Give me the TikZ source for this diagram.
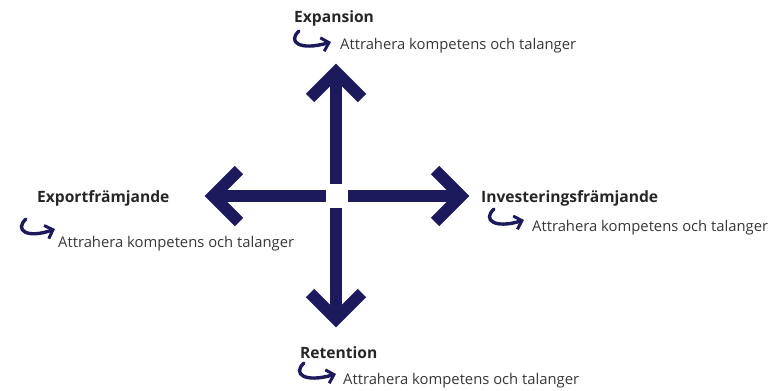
\documentclass[tikz,border=0pt]{standalone}
\usepackage{fontspec}
\setmainfont{Open Sans}
\usetikzlibrary{arrows.meta,calc}
\definecolor{navy}{RGB}{28,26,92}
\definecolor{txt}{RGB}{55,55,55}
\tikzset{
  bigarrow/.style={draw=navy, line width=12pt, line cap=butt, line join=miter},
  title/.style={anchor=west, inner sep=0pt, font=\bfseries\fontsize{15.6}{18}\selectfont, text=black!85},
  sub/.style={anchor=west, inner sep=0pt, font=\fontsize{14.8}{17}\selectfont, text=txt},
  hook/.style={draw=navy, line width=3.4pt, line cap=round, -{Straight Barb[length=7pt,width=14pt,line width=3pt]}}
}
\begin{document}
\begin{tikzpicture}[x=1pt,y=-1pt]
\useasboundingbox (0,0) rectangle (774,391);
% arrows
\coordinate (tu) at (336,72);
\coordinate (td) at (336,319);
\coordinate (tl) at (213,196);
\coordinate (tr) at (461,196);
\coordinate (gu) at (336,184);
\coordinate (gd) at (336,208);
\coordinate (gl) at (326,196);
\coordinate (gr) at (348,196);
\draw[bigarrow] (gu) -- (tu);
\draw[bigarrow] ($(tu)+(-26,26)$) -- (tu) -- ($(tu)+(26,26)$);
\draw[bigarrow] (gd) -- (td);
\draw[bigarrow] ($(td)+(-26,-26)$) -- (td) -- ($(td)+(26,-26)$);
\draw[bigarrow] (gl) -- (tl);
\draw[bigarrow] ($(tl)+(26,-26)$) -- (tl) -- ($(tl)+(26,26)$);
\draw[bigarrow] (gr) -- (tr);
\draw[bigarrow] ($(tr)+(-26,-26)$) -- (tr) -- ($(tr)+(-26,26)$);
% labels
\node[title] (expT) at (294,18) {Expansion};
\node[sub] (expS) at (340,46) {Attrahera kompetens och talanger};
\node[title] (exoT) at (37,198) {Exportfrämjande};
\node[sub] (exoS) at (58,244) {Attrahera kompetens och talanger};
\node[title] (invT) at (481,198) {Investeringsfrämjande};
\node[sub] (invS) at (532,228) {Attrahera kompetens och talanger};
\node[title] (retT) at (300,353) {Retention};
\node[sub] (retS) at (343,381) {Attrahera kompetens och talanger};
% hooks
\coordinate (h1a) at (299,31);
\coordinate (h1b) at (331,42);
\draw[hook] (h1a) .. controls (287,42) and (300,51) .. (h1b);
\coordinate (h2a) at (26,219);
\coordinate (h2b) at (55,229);
\draw[hook] (h2a) .. controls (14,230) and (27,239) .. (h2b);
\coordinate (h3a) at (494,209);
\coordinate (h3b) at (524,220);
\draw[hook] (h3a) .. controls (482,220) and (495,229) .. (h3b);
\coordinate (h4a) at (304,363);
\coordinate (h4b) at (336,374);
\draw[hook] (h4a) .. controls (292,374) and (305,383) .. (h4b);
\end{tikzpicture}
\end{document}
